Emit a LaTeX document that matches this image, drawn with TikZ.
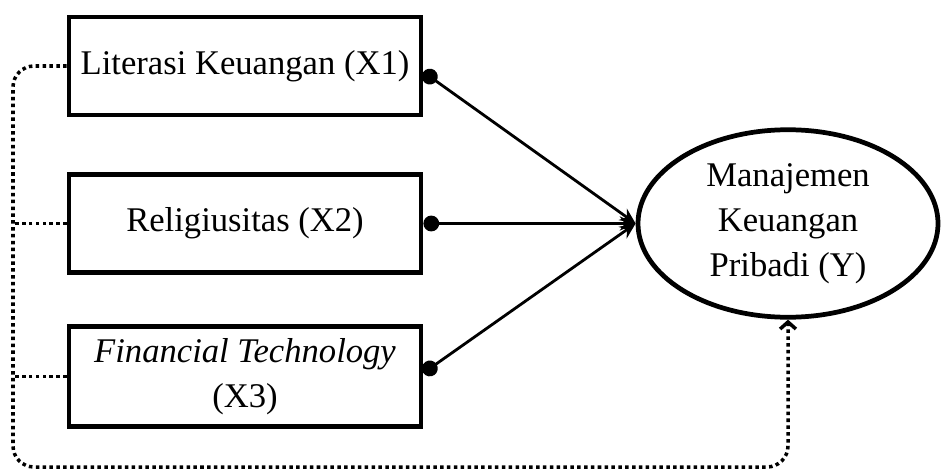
\documentclass[tikz,border=0pt]{standalone}
\usepackage{fontspec}
\setmainfont{Liberation Serif}
\usetikzlibrary{arrows.meta,shapes.geometric}
\begin{document}
\fontsize{19.7}{25.6}\selectfont
\begin{tikzpicture}[
    box/.style={draw, line width=2.7pt, minimum width=7.04cm, minimum height=1.96cm, align=center},
    latent/.style={draw, ellipse, line width=2.7pt, minimum width=6.0cm, minimum height=3.75cm, align=center, inner sep=0pt},
    effect/.style={line width=1.6pt, {Circle[length=9pt]}-{Stealth[length=9pt,width=8pt]}},
    dotline/.style={line width=2pt, dash pattern=on 2pt off 1.9pt}]
  \useasboundingbox (0,0) rectangle (18.86,9.46);
  \node[box] (x1) at (4.90,8.14) {Literasi Keuangan (X1)};
  \node[box] (x2) at (4.90,4.99) {Religiusitas (X2)};
  \node[box] (x3) at (4.90,1.93) {\textit{Financial Technology}\\(X3)};
  \node[latent] (y) at (15.76,4.99) {Manajemen\\Keuangan\\Pribadi (Y)};
  \coordinate (lft) at (0.26,0.12);
  \draw[effect] ([yshift=-0.12cm]x1.east) -- (y.west);
  \draw[effect] (x2.east) -- (y.west);
  \draw[effect] ([yshift=0.07cm]x3.east) -- (y.west);
  \draw[dotline, rounded corners=12pt, -{Straight Barb[length=4pt,width=9pt]}] (x1.west) -| (lft) -| (y.south);
  \draw[dotline] (x2.west) -- (x2.west -| lft);
  \draw[dotline] (x3.west) -- (x3.west -| lft);
\end{tikzpicture}
\end{document}
